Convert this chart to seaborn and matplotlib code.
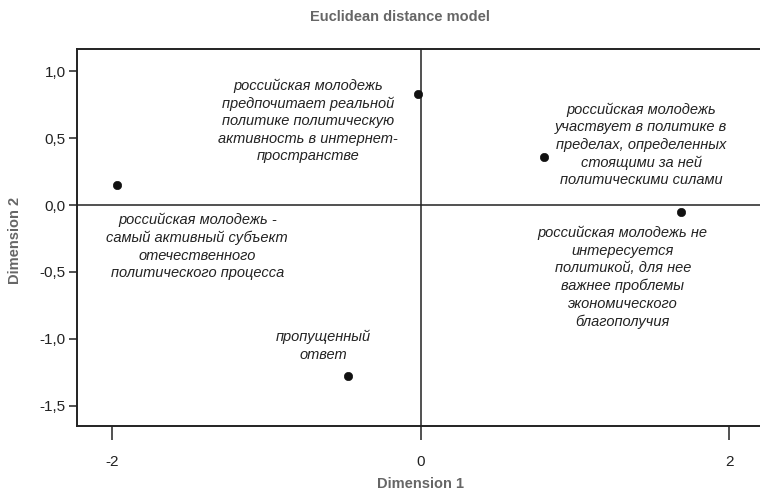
import matplotlib
matplotlib.use("Agg")
import matplotlib.pyplot as plt
import seaborn as sns
from matplotlib.ticker import FuncFormatter

# Координаты стимулов (Euclidean distance model)
labels = [
    "российская молодежь -\nсамый активный субъект\nотечественного\nполитического процесса",
    "российская молодежь\nпредпочитает реальной\nполитике политическую\nактивность в интернет-\nпространстве",
    "российская молодежь\nучаствует в политике в\nпределах, определенных\nстоящими за ней\nполитическими силами",
    "российская молодежь не\nинтересуется\nполитикой, для нее\nважнее проблемы\nэкономического\nблагополучия",
    "пропущенный\nответ",
]
dim1 = [-1.97, -0.02, 0.80, 1.69, -0.47]
dim2 = [0.15, 0.83, 0.36, -0.05, -1.28]

# где стоят подписи (центр текста, в координатах данных)
label_x = [-1.45, -0.73, 1.43, 1.31, -0.63]
label_y = [-0.31, 0.63, 0.45, -0.54, -1.05]

sns.set_style("white")
plt.rcParams['font.family'] = ['Liberation Sans', 'DejaVu Sans']
plt.rcParams['axes.unicode_minus'] = False

fig = plt.figure(figsize=(7.6, 4.96), dpi=100)
ax = fig.add_axes([77 / 760, 1 - 426 / 496, 686 / 760, 377 / 496])

ax.axhline(0, color='#222222', lw=1.1, zorder=1)
ax.axvline(0, color='#222222', lw=1.1, zorder=1)

sns.scatterplot(x=dim1, y=dim2, color='#111111', s=36, edgecolor='#111111', ax=ax, zorder=3)

for txt, lx, ly in zip(labels, label_x, label_y):
    ax.text(lx, ly, txt, ha='center', va='center', style='italic',
            fontsize=10.5, color='#222222', linespacing=1.32)

ax.set_xlim(-2.23, 2.22)
ax.set_ylim(-1.65, 1.165)
ax.set_xticks([-2, 0, 2])
ax.set_yticks([1.0, 0.5, 0.0, -0.5, -1.0, -1.5])
ax.yaxis.set_major_formatter(FuncFormatter(lambda v, p: f"{v:.1f}".replace('.', ',')))

for s in ax.spines.values():
    s.set_color('#222222')
    s.set_linewidth(1.4)

ax.tick_params(axis='x', direction='out', length=10, width=1.1, pad=11,
               labelsize=11, colors='#222222', bottom=True)
ax.tick_params(axis='y', direction='out', length=6, width=1.1, pad=2,
               labelsize=11, colors='#222222', left=True)

fig.text(420 / 760, 1 - 484 / 496, "Dimension 1", ha='center', va='center',
         fontsize=10.5, fontweight='bold', color='#666666')
fig.text(15 / 760, 1 - 240 / 496, "Dimension 2", ha='center', va='center',
         rotation=90, fontsize=10.5, fontweight='bold', color='#666666')
fig.text(400 / 760, 1 - 17 / 496, "Euclidean distance model", ha='center', va='center',
         fontsize=10.5, fontweight='bold', color='#666666')

fig.savefig("out.png", dpi=100)
